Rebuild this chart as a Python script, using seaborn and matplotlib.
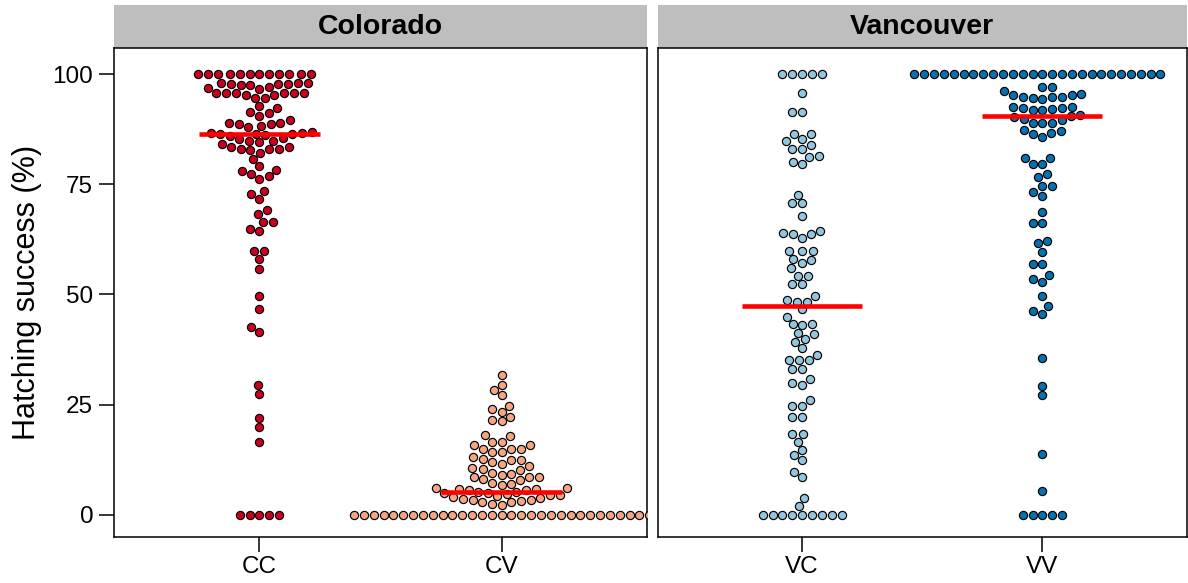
import matplotlib
matplotlib.use("Agg")
import matplotlib.pyplot as plt
from matplotlib.patches import Rectangle
import pandas as pd
import seaborn as sns

# Hatching success (%) per clutch, by cross type
regions = ["Colorado", "Vancouver"]
region_crosses = {"Colorado": ["CC", "CV"], "Vancouver": ["VC", "VV"]}
cross_colors = {"CC": "#CA0020", "CV": "#F4A582", "VC": "#92C5DE", "VV": "#0571B0"}

cc_success = ([100] * 12
              + [98.0, 98.0, 98.0, 97.8, 97.8, 97.8, 97.5, 97.4, 97.0, 96.8, 96.5]
              + [95.8, 95.8, 95.8, 95.6, 95.6, 95.6, 95.2, 95.2, 94.6, 94.6]
              + [92.7, 92.2, 91.3, 91.1, 90.5, 89.6, 89.0, 89.0, 88.6, 88.6, 88.3, 87.9]
              + [86.8, 86.7, 86.6, 86.5, 86.4, 86.3, 86.2, 86.0]
              + [85.5, 85.2, 84.9, 84.9, 84.5, 84.1]
              + [83.4, 83.4, 83.1, 83.0, 83.0, 82.8, 82.2]
              + [80.7, 79.1, 78.2, 78.0, 77.4, 76.9, 76.2]
              + [73.5, 72.7, 71.6, 69.2, 68.3, 66.4, 66.4, 64.9, 64.4]
              + [59.9, 59.9, 58.0, 55.8, 49.7, 46.8, 42.6, 41.5, 29.5, 27.4, 22.1, 19.9, 16.6]
              + [0] * 5)

cv_success = ([31.8, 29.5, 28.3, 27.1, 24.8, 24.1, 23.4, 22.2, 21.5, 21.2]
              + [18.1, 17.8, 16.6, 16.6, 15.9, 15.9, 15.0, 15.0, 15.0, 14.2, 14.2]
              + [13.1, 12.6, 12.4, 12.4, 11.9, 11.6, 11.0, 10.6, 10.4, 10.2]
              + [9.5, 9.3, 9.1, 8.7, 8.7, 8.5, 8.2, 7.9, 7.2, 7.0, 6.8]
              + [6.1, 6.0, 5.9, 5.8, 5.7, 5.6]
              + [5.2, 5.1, 5.0, 4.9, 4.8, 4.6, 4.5, 4.2, 4.1, 3.9, 3.7, 3.5, 3.4, 3.2,
                 3.0, 2.9, 2.4, 2.3]
              + [0] * 31)

vc_success = ([100] * 5
              + [95.8, 91.3, 91.3, 86.5, 86.4, 85.3, 84.7, 83.9, 83.0, 83.0, 81.5, 81.1,
                 80.1, 79.6]
              + [72.6, 70.7, 70.7, 67.8, 64.3, 64.0, 63.7, 63.7, 62.8]
              + [59.9, 59.9, 59.9, 58.0, 57.8, 57.1, 55.9, 54.3, 54.3, 52.4, 52.4]
              + [49.7, 48.7, 48.4, 48.4, 46.6, 45.0, 43.3, 43.3, 43.1, 41.2, 41.0, 39.8,
                 39.2, 37.8, 36.2]
              + [35.1, 35.1, 35.1, 33.1, 33.1, 30.8, 29.9, 29.5, 26.1, 24.8, 24.8, 22.2,
                 22.2, 18.4, 18.4, 16.6, 14.7, 13.6, 12.5, 9.8, 8.7, 3.8, 2.0]
              + [0] * 9)

vv_success = ([100] * 26
              + [97.0, 97.0, 96.2, 95.5, 95.3, 95.2, 94.9, 94.8, 94.8, 94.6, 94.4]
              + [92.6, 92.5, 92.4, 92.3, 92.1, 91.9, 91.8]
              + [90.6, 90.5, 90.3, 89.9, 89.6, 89.0, 89.0, 88.8]
              + [87.3, 87.1, 86.6, 86.4, 85.8, 80.9, 80.9, 79.6, 79.6, 77.3, 76.6]
              + [74.7, 74.7, 73.2, 72.4, 68.8, 66.3, 66.3, 62.2, 61.6, 59.7, 56.9, 56.9,
                 54.4, 53.4, 52.9]
              + [49.7, 47.4, 46.3, 45.6, 35.5, 29.3, 27.1, 13.8, 5.5]
              + [0] * 5)

success_by_cross = {"CC": cc_success, "CV": cv_success,
                    "VC": vc_success, "VV": vv_success}

frames = []
for region in regions:
    for cross in region_crosses[region]:
        frames.append(pd.DataFrame({"region": region, "cross": cross,
                                    "success": success_by_cross[cross]}))
df = pd.concat(frames, ignore_index=True)

# Categories sit half a native unit apart so each swarm has room to spread
step = 0.5
df["slot"] = df.groupby("region")["cross"].transform(
    lambda s: s.map({c: i * step for i, c in enumerate(dict.fromkeys(s))}))

sns.set_theme(style="ticks")
plt.rcParams["font.family"] = ["Liberation Sans", "DejaVu Sans"]
plt.rcParams["axes.linewidth"] = 1.1

W, H = 1188, 583
fig = plt.figure(figsize=(W / 100, H / 100), dpi=100)
top_px, bottom_px = 48, 537
panels = [(114, 647), (658, 1186.5)]
axes = []
for (x0, x1) in panels:
    axes.append(fig.add_axes([x0 / W, 1 - bottom_px / H, (x1 - x0) / W,
                              (bottom_px - top_px) / H]))

strip_h = 43 / (bottom_px - top_px)
for k, (ax, region) in enumerate(zip(axes, regions)):
    sub_region = df[df["region"] == region]
    for cross in region_crosses[region]:
        sub = sub_region[sub_region["cross"] == cross]
        sns.swarmplot(data=sub, x="slot", y="success", native_scale=True,
                      orient="x", color=cross_colors[cross], size=5.9,
                      linewidth=0.85, edgecolor="black", ax=ax, zorder=3)
        pos = sub["slot"].iloc[0]
        med = sub["success"].median()
        ax.hlines(med, pos - step / 4, pos + step / 4, color="#FF0000",
                  lw=3.3, zorder=6)

    slots = [i * step for i in range(len(region_crosses[region]))]
    ax.set_xlim(-0.6 * step, 1.6 * step)
    ax.set_ylim(-5, 105.9)
    ax.set_xticks(slots, region_crosses[region])
    ax.set_yticks([0, 25, 50, 75, 100])
    ax.set_xlabel("")
    ax.set_ylabel("")
    ax.tick_params(axis="both", length=10.5, width=1.1, color="black",
                   labelsize=17.5, labelcolor="black")
    ax.tick_params(axis="x", pad=3)
    ax.tick_params(axis="y", pad=4.5)
    for sp in ax.spines.values():
        sp.set_visible(True)
        sp.set_color("black")
        sp.set_linewidth(1.1)
    if k > 0:
        ax.tick_params(axis="y", left=False, labelleft=False)

    ax.add_patch(Rectangle((0, 1), 1, strip_h, transform=ax.transAxes,
                           facecolor="#BEBEBE", edgecolor="none", clip_on=False))
    ax.text(0.5, 1 + strip_h / 2, region, transform=ax.transAxes, ha="center",
            va="center", fontsize=20.5, fontweight="bold", color="black")

axes[0].set_ylabel("Hatching success (%)", fontsize=22, color="black")
axes[0].yaxis.set_label_coords((42 - 114) / 533, 0.5)

fig.savefig("out.png", dpi=100)
